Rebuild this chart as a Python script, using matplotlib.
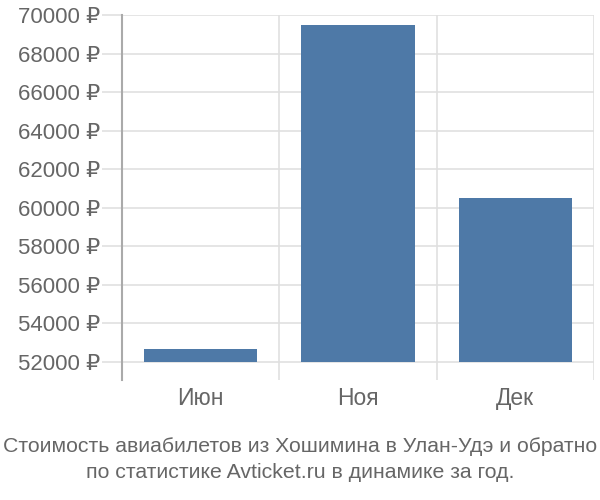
import matplotlib
matplotlib.use("Agg")
import matplotlib.pyplot as plt
from matplotlib.ticker import FuncFormatter

categories = ["Июн", "Ноя", "Дек"]
values = [52670, 69480, 60510]
yticks = [52000, 54000, 56000, 58000, 60000, 62000, 64000, 66000, 68000, 70000]

plt.rcParams['font.family'] = ['Liberation Sans', 'DejaVu Sans']

fig = plt.figure(figsize=(6, 5), dpi=100)
ax = fig.add_axes([122/600, 1-380/500, (594-122)/600, (380-15)/500])

x = list(range(len(categories)))
ax.bar(x, [v - 52000 for v in values], bottom=52000, width=0.72, color="#4e79a7", zorder=3)

ax.set_xlim(-0.5, len(categories) - 0.5)
ax.set_ylim(51050, 70000)
ax.set_yticks(yticks)
ax.yaxis.set_major_formatter(FuncFormatter(lambda v, p: f"{int(v)} ₽"))
ax.set_xticks(x)
ax.set_xticklabels(categories)

for yt in yticks:
    ax.axhline(yt, color="#e0e0e0", lw=1.2, zorder=1, xmin=0, xmax=1)
for xs in [0.5, 1.5, 2.5]:
    ax.axvline(xs, color="#e0e0e0", lw=1.2, zorder=1)

for s in ["top", "right", "bottom"]:
    ax.spines[s].set_visible(False)
ax.spines["left"].set_color("#aaaaaa")
ax.spines["left"].set_linewidth(1.5)

ax.tick_params(axis="y", length=14.5, color="#e0e0e0", width=1.2, labelsize=16, labelcolor="#666666", pad=1)
ax.tick_params(axis="x", length=0, labelsize=16.5, labelcolor="#666666", pad=5)

fig.text(0.5, 1-447/500, "Стоимость авиабилетов из Хошимина в Улан-Удэ и обратно",
         ha="center", va="center", fontsize=15.3, color="#666666")
fig.text(0.5, 1-473/500, "по статистике Avticket.ru в динамике за год.",
         ha="center", va="center", fontsize=15.3, color="#666666")

fig.savefig("out.png", dpi=100)
